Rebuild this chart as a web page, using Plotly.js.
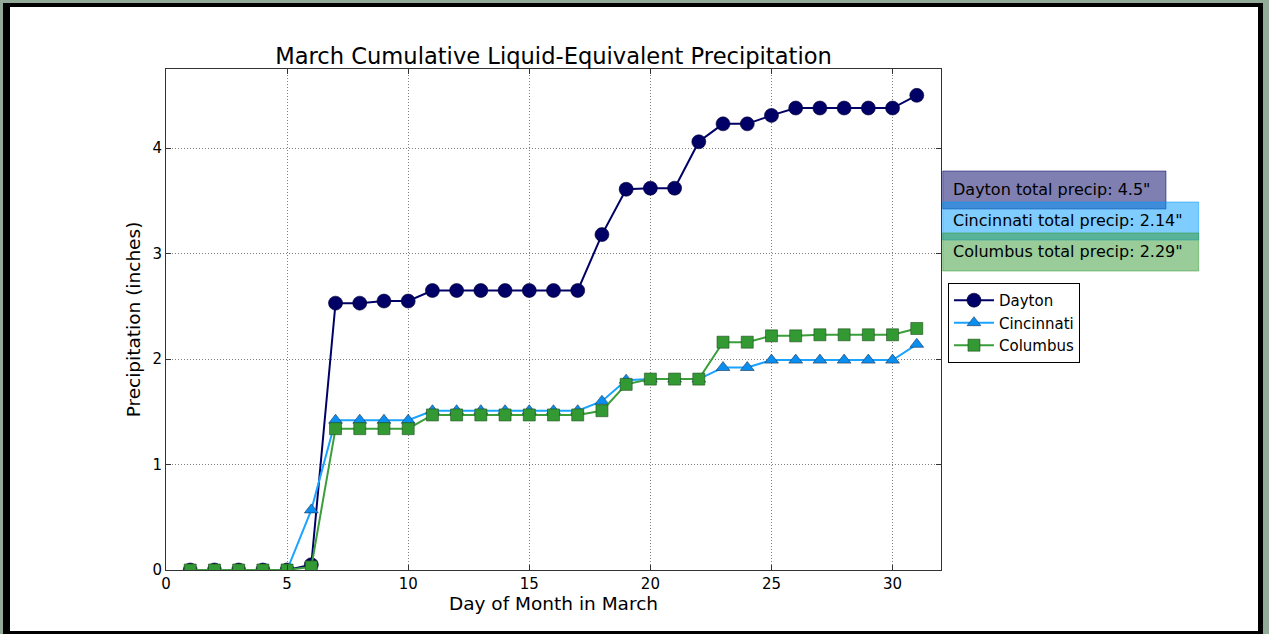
<!DOCTYPE html>
<html>
<head>
<meta charset="utf-8">
<script src="https://cdn.plot.ly/plotly-3.0.1.min.js"></script>
<style>
  html, body { margin:0; padding:0; background:#ffffff; }
  #wrap { position:relative; width:1269px; height:634px; overflow:hidden; }
  #chart { position:absolute; left:0; top:0; width:1269px; height:634px; }
  #frameOuter { position:absolute; left:0; top:0; width:1269px; height:634px; box-sizing:border-box;
    border-style:solid; border-color:#92aa97; border-width:3px 6px 0 3px; pointer-events:none; }
  #frameInner { position:absolute; left:0; top:0; right:0; bottom:0; box-sizing:border-box;
    border-style:solid; border-color:#000; border-width:4px 5px 3px 7px; }
</style>
</head>
<body>
<div id="wrap">
  <div id="chart"></div>
  <div id="frameOuter"><div id="frameInner"></div></div>
</div>
<script>
const days = [1,2,3,4,5,6,7,8,9,10,11,12,13,14,15,16,17,18,19,20,21,22,23,24,25,26,27,28,29,30,31];
const dayton = [0,0,0,0,0,0.05,2.53,2.53,2.55,2.55,2.65,2.65,2.65,2.65,2.65,2.65,2.65,3.18,3.61,3.62,3.62,4.06,4.23,4.23,4.31,4.38,4.38,4.38,4.38,4.38,4.50];
const cincinnati = [0,0,0,0,0,0.57,1.42,1.42,1.42,1.42,1.51,1.51,1.51,1.51,1.51,1.51,1.51,1.60,1.80,1.81,1.81,1.81,1.92,1.92,1.99,1.99,1.99,1.99,1.99,1.99,2.14];
const columbus = [0,0,0,0,0,0.03,1.34,1.34,1.34,1.34,1.47,1.47,1.47,1.47,1.47,1.47,1.47,1.51,1.76,1.81,1.81,1.81,2.16,2.16,2.22,2.22,2.23,2.23,2.23,2.23,2.29];
const seriesNames = ["Dayton", "Cincinnati", "Columbus"];
const totalLabels = ["Dayton total precip: 4.5\"", "Cincinnati total precip: 2.14\"", "Columbus total precip: 2.29\""];
const xTicks = [0,5,10,15,20,25,30];
const yTicks = [0,1,2,3,4];

const FONT = "DejaVu Sans, Liberation Sans, sans-serif";

const traces = [
  {x: days, y: dayton, name: seriesNames[0], mode: "lines+markers",
   line: {color: "#000066", width: 2},
   marker: {symbol: "circle", size: 14, color: "#000066", line: {color: "#000033", width: 0.6}}},
  {x: days, y: cincinnati, name: seriesNames[1], mode: "lines+markers",
   line: {color: "#1aa3ff", width: 2},
   marker: {symbol: "triangle-up", size: 12, color: "#0a8ff0", line: {color: "#1a3455", width: 0.6}}},
  {x: days, y: columbus, name: seriesNames[2], mode: "lines+markers",
   line: {color: "#3a9e3a", width: 2},
   marker: {symbol: "square", size: 12, color: "#339933", line: {color: "#1f4f1f", width: 0.6}}}
];

// box geometry in paper coordinates
const boxes = [
  {x0: 1.0022, x1: 1.2903, y0: 0.7206, y1: 0.7964, fill: "rgba(0,0,102,0.5)", ty: 0.7595},
  {x0: 1.0022, x1: 1.3325, y0: 0.6587, y1: 0.7345, fill: "rgba(0,153,255,0.5)", ty: 0.6986},
  {x0: 1.0022, x1: 1.3325, y0: 0.5968, y1: 0.6727, fill: "rgba(51,153,51,0.5)", ty: 0.6367}
];

const shapes = boxes.map(b => ({
  type: "rect", xref: "paper", yref: "paper", x0: b.x0, x1: b.x1, y0: b.y0, y1: b.y1,
  fillcolor: b.fill, line: {color: b.fill, width: 1}, layer: "above"
}));
const annotations = boxes.map((b, i) => ({
  xref: "paper", yref: "paper", x: 1.0135, y: b.ty, xanchor: "left", yanchor: "middle",
  text: totalLabels[i], showarrow: false, font: {family: FONT, size: 16, color: "#000"}
}));

const axisCommon = {
  showline: true, linecolor: "#333", linewidth: 1, mirror: "allticks",
  ticks: "inside", ticklen: 5, tickcolor: "#333", tickwidth: 1,
  showgrid: true, gridcolor: "#808080", gridwidth: 1, griddash: "1px,2px",
  zeroline: false, tickfont: {family: FONT, size: 15, color: "#000"}
};

const layout = {
  width: 1269, height: 634,
  margin: {l: 166, r: 328, t: 69, b: 64, autoexpand: false},
  paper_bgcolor: "#fff", plot_bgcolor: "#fff",
  font: {family: FONT, color: "#000"},
  title: {text: "March Cumulative Liquid-Equivalent Precipitation", font: {family: FONT, size: 22.6, color: "#000"},
          x: 0.5, xref: "paper", y: 0.912, yref: "container", yanchor: "middle"},
  xaxis: Object.assign({}, axisCommon, {range: [0, 32], tickvals: xTicks, ticktext: xTicks.map(String),
          title: {text: "Day of Month in March", font: {family: FONT, size: 18.5, color: "#000"}, standoff: 4}}),
  yaxis: Object.assign({}, axisCommon, {range: [0, 4.75], tickvals: yTicks, ticktext: yTicks.map(String),
          title: {text: "Precipitation (inches)", font: {family: FONT, size: 18.5, color: "#000"}, standoff: 6}}),
  showlegend: true,
  legend: {x: 1.009, y: 0.573, xanchor: "left", yanchor: "top", bgcolor: "#fff",
           bordercolor: "#000", borderwidth: 1, font: {family: FONT, size: 15, color: "#000"},
           tracegroupgap: 0, itemwidth: 40},
  shapes: shapes,
  annotations: annotations
};

Plotly.newPlot("chart", traces, layout, {displayModeBar: false, staticPlot: true});
</script>
</body>
</html>
